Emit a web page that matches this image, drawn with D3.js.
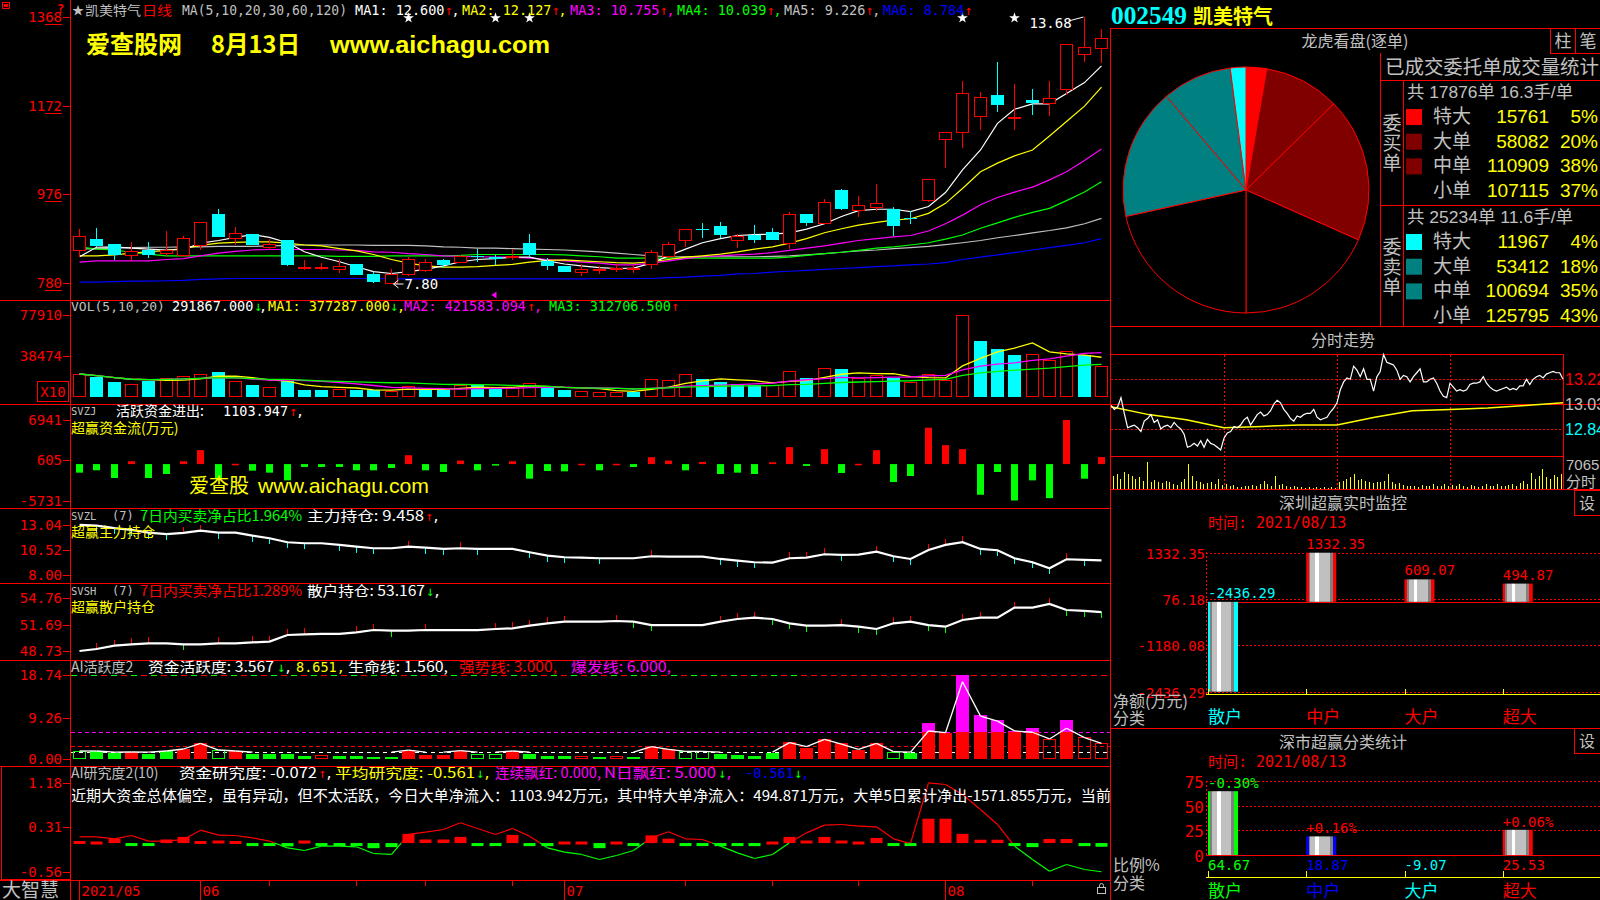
<!DOCTYPE html>
<html><head><meta charset="utf-8">
<script src="https://cdn.jsdelivr.net/npm/d3@7/dist/d3.min.js"></script>
<style>html,body{margin:0;padding:0;background:#000;overflow:hidden}svg{display:block}</style>
</head><body>
<svg id="chart" width="1600" height="900"></svg>
<script>
// ================= DATA =================
const dates = ['05-21','05-24','05-25','05-26','05-27','05-28','05-31',
'06-01','06-02','06-03','06-04','06-07','06-08','06-09','06-10','06-11','06-15','06-16','06-17','06-18','06-21','06-22','06-23','06-24','06-25','06-28','06-29','06-30',
'07-01','07-02','07-05','07-06','07-07','07-08','07-09','07-12','07-13','07-14','07-15','07-16','07-19','07-20','07-21','07-22','07-23','07-26','07-27','07-28','07-29','07-30',
'08-02','08-03','08-04','08-05','08-06','08-09','08-10','08-11','08-12','08-13'];
const open = [8.54,8.77,8.66,8.42,8.54,8.47,8.43,8.63,9.33,8.80,
8.88,8.60,8.75,8.12,8.12,8.10,8.21,8.00,7.81,8.01,
8.09,8.31,8.27,8.39,8.38,8.37,8.68,8.29,8.18,8.04,
8.10,8.10,8.10,8.21,8.40,8.74,8.99,9.05,8.74,8.87,
8.92,8.68,9.32,9.13,9.85,9.41,9.48,9.43,9.24,9.64,
10.98,11.13,11.50,11.95,11.42,11.85,11.79,12.08,12.86,12.99];
const high = [8.99,9.02,8.67,8.71,8.71,8.96,8.84,9.15,9.44,9.04,
8.89,8.77,8.76,8.31,8.24,8.32,8.22,8.04,8.10,8.38,
8.33,8.33,8.43,8.55,8.42,8.55,8.88,8.35,8.18,8.22,
8.18,8.21,8.20,8.52,8.71,8.99,9.12,9.15,8.88,9.08,
9.01,9.38,9.32,9.65,9.88,9.72,9.99,9.49,9.40,10.11,
11.13,12.27,12.02,12.69,12.20,12.08,12.27,13.08,13.68,13.41];
const low = [8.37,8.60,8.31,8.29,8.36,8.40,8.38,8.54,8.82,8.64,
8.63,8.54,8.18,8.09,8.09,8.03,7.98,7.81,7.80,7.95,
8.04,8.14,8.24,8.27,8.20,8.31,8.38,8.09,8.04,7.96,
8.01,8.05,8.03,8.12,8.35,8.59,8.80,8.80,8.58,8.68,
8.74,8.55,9.06,9.11,9.41,9.25,9.40,8.84,9.10,9.60,
10.34,10.79,11.18,11.58,11.18,11.51,11.50,11.96,12.69,12.67];
const close = [8.84,8.62,8.43,8.51,8.42,8.54,8.80,9.15,8.82,8.91,
8.63,8.66,8.20,8.16,8.15,8.18,7.98,7.82,8.00,8.33,
8.26,8.20,8.40,8.38,8.32,8.39,8.43,8.18,8.04,8.12,
8.12,8.14,8.13,8.48,8.66,8.99,8.98,8.85,8.84,8.74,
8.76,9.32,9.13,9.58,9.44,9.53,9.56,9.05,9.23,10.11,
11.13,11.99,11.91,11.74,11.47,11.79,11.88,13.08,13.02,13.21];

const ma1 = [8.38,8.59,8.60,8.57,8.55,8.53,8.54,8.68,8.74,8.81,
8.87,8.81,8.69,8.49,8.37,8.27,8.16,8.05,8.01,8.05,
8.10,8.18,8.27,8.32,8.34,8.37,8.37,8.29,8.22,8.18,
8.14,8.12,8.13,8.24,8.40,8.55,8.69,8.78,8.85,8.87,
8.88,8.91,8.99,9.11,9.27,9.40,9.43,9.43,9.38,9.49,
9.80,10.30,10.74,11.33,11.64,11.76,11.76,11.99,12.23,12.60];
const ma2 = [8.40,8.40,8.42,8.46,8.49,8.52,8.56,8.63,8.68,8.70,
8.71,8.71,8.68,8.64,8.62,8.56,8.51,8.43,8.32,8.24,
8.18,8.15,8.15,8.16,8.19,8.21,8.26,8.30,8.31,8.29,
8.27,8.25,8.24,8.27,8.32,8.37,8.40,8.44,8.49,8.55,
8.60,8.68,8.78,8.91,9.00,9.08,9.14,9.19,9.22,9.34,
9.56,9.89,10.26,10.45,10.61,10.74,11.05,11.37,11.71,12.13];
const ma3 = [8.26,8.29,8.29,8.29,8.29,8.32,8.34,8.40,8.46,8.50,
8.53,8.54,8.54,8.54,8.54,8.53,8.52,8.49,8.48,8.45,
8.43,8.40,8.39,8.38,8.37,8.37,8.35,8.32,8.29,8.26,
8.24,8.20,8.20,8.24,8.29,8.34,8.38,8.40,8.42,8.44,
8.47,8.52,8.57,8.62,8.68,8.74,8.78,8.82,8.85,8.95,
9.11,9.30,9.53,9.69,9.81,9.92,10.08,10.26,10.51,10.76];
const ma4 = [8.60,8.55,8.53,8.48,8.44,8.40,8.40,8.40,8.40,8.40,
8.40,8.40,8.40,8.40,8.40,8.39,8.39,8.39,8.40,8.40,
8.40,8.40,8.41,8.43,8.43,8.43,8.43,8.43,8.42,8.40,
8.38,8.35,8.35,8.35,8.35,8.35,8.35,8.35,8.35,8.35,
8.35,8.37,8.41,8.45,8.48,8.52,8.57,8.60,8.64,8.69,
8.77,8.86,9.01,9.13,9.25,9.36,9.45,9.62,9.81,10.04];
const ma5 = [8.55,8.56,8.57,8.58,8.59,8.59,8.60,8.60,8.61,8.61,
8.61,8.62,8.63,8.64,8.64,8.64,8.64,8.63,8.63,8.63,
8.62,8.60,8.59,8.57,8.57,8.56,8.55,8.54,8.53,8.51,
8.49,8.46,8.43,8.40,8.38,8.38,8.38,8.38,8.38,8.38,
8.39,8.40,8.42,8.45,8.48,8.51,8.53,8.56,8.58,8.61,
8.65,8.69,8.74,8.80,8.85,8.91,8.96,9.02,9.11,9.23];
const ma6 = [7.82,7.82,7.83,7.84,7.84,7.85,7.86,7.88,7.89,7.90,
7.90,7.90,7.90,7.90,7.90,7.90,7.90,7.90,7.89,7.89,
7.89,7.89,7.89,7.89,7.89,7.89,7.89,7.89,7.89,7.89,
7.90,7.90,7.90,7.90,7.92,7.93,7.95,7.97,8.00,8.01,
8.04,8.06,8.08,8.10,8.12,8.14,8.16,8.18,8.20,8.22,
8.25,8.32,8.37,8.42,8.47,8.53,8.58,8.63,8.69,8.78];

const volume = [215100,183200,141800,119500,148200,173700,196000,211900,237400,148200,
109900,90800,148200,62100,62100,71700,62100,58900,52600,103600,
62100,62100,109900,113100,74900,78100,132200,87600,62100,49400,
43000,43000,46200,164100,154500,218300,167300,135400,122700,113100,
109900,240600,176900,272400,262900,173700,205500,173700,135400,218300,
154500,779100,530600,454100,396700,403100,348900,435000,396700,291867];

const svzj = [-1346,-977,-2191,449,-2191,-1558,449,2191,-2297,50,
-1030,-1346,-2561,-449,-449,-449,-977,-977,-607,1399,
-977,-1241,554,-977,-185,449,-2297,-1082,-1135,50,
-977,50,-449,1082,554,-977,343,-1558,-1346,-1558,
290,2666,-290,2350,-1399,50,2191,-2825,-1874,5729,
2983,2350,-4831,-1241,-5731,-2561,-5359,6941,-2297,1104];

const svzl = [13.00,12.93,12.67,12.50,12.23,12.07,12.20,12.43,12.23,12.23,
11.93,11.67,11.27,11.17,11.17,11.00,10.83,10.67,10.67,10.83,
10.73,10.60,10.67,10.60,10.60,10.60,10.27,9.93,9.77,9.73,
9.67,9.67,9.67,9.87,9.83,9.83,9.83,9.60,9.43,9.27,
9.23,9.67,9.73,10.07,10.00,10.03,10.33,9.87,9.60,10.50,
11.00,11.27,10.60,10.47,9.67,9.27,8.67,9.57,9.50,9.458];

const svsh = [48.73,48.96,49.34,49.49,49.61,49.61,49.49,49.49,49.61,49.61,
49.72,49.80,50.56,50.64,50.68,50.68,50.87,51.13,51.06,51.06,
51.13,51.13,51.13,51.13,51.25,51.32,51.63,51.90,52.09,52.09,
52.09,52.16,52.09,51.70,51.70,51.70,51.70,52.09,52.39,52.54,
52.39,51.90,51.63,51.63,51.70,51.51,51.25,51.90,52.09,51.70,
51.51,52.28,52.54,52.54,53.69,53.69,54.11,53.42,53.31,53.167];

const aiAct = [1.81,1.81,1.29,1.59,1.14,1.81,2.26,3.53,2.03,1.81,
1.14,1.06,1.14,0.77,0.92,0.69,0.69,0.54,0.54,2.03,
0.92,0.92,1.88,1.06,1.06,1.81,1.06,0.69,0.69,0.69,
0.39,0.69,0.54,2.77,2.18,1.73,1.73,1.14,0.84,0.69,
1.44,3.90,2.41,4.50,3.53,2.03,3.60,1.66,1.44,8.07,
5.91,18.74,9.86,8.74,6.20,6.93,4.49,8.74,4.94,3.567];
// 1 = inflow filled, 2 = inflow hollow, -1 = outflow filled, -2 = outflow hollow
const aiState = [-2,-1,-1,1,-1,-1,1,1,-2,1,
-1,-1,-1,-1,2,-1,-1,-1,-1,1,
1,1,1,-2,-2,1,-1,-1,-1,2,
-1,2,-1,1,1,-2,-2,-1,-1,-1,
-1,1,1,1,1,1,1,-2,-1,1,
1,1,1,1,1,1,2,1,2,2];
const aiLine = [1.81,1.81,1.56,1.59,1.56,1.81,2.26,3.53,2.03,1.81,
1.56,1.56,1.56,1.56,1.56,1.56,1.56,1.56,1.56,2.03,
1.56,1.56,1.88,1.56,1.56,1.81,1.56,1.56,1.56,1.56,
1.56,1.56,1.56,2.77,2.18,1.73,1.73,1.56,1.56,1.56,
1.56,3.67,2.77,4.40,3.35,2.20,3.50,1.66,1.56,6.28,
5.91,17.30,9.60,8.50,6.30,6.00,4.50,6.90,4.80,3.50];
const aiLevels = {life:1.56, strong:3.0, burst:6.0, top:18.74};

const research = [0.04,0.03,0.085,-0.045,-0.02,0.07,0.12,0.04,0.05,0.04,
-0.02,-0.045,-0.065,0.05,-0.02,-0.02,-0.02,-0.10,-0.08,0.18,
0.07,0.07,0.12,-0.02,-0.02,0.16,-0.06,-0.06,0.03,0.03,
-0.10,0.03,-0.02,0.15,0.085,-0.045,-0.02,-0.06,-0.045,-0.06,
0.03,0.12,0.05,0.12,0.05,0.03,0.10,-0.045,-0.045,0.476,
0.476,0.18,0.065,0.065,-0.02,-0.08,0.08,0.08,-0.06,-0.072];
const researchAvg = [0.122,0.122,0.083,0.148,0.037,0.037,0.07,0.252,0.155,0.148,
0.103,0.037,-0.093,-0.145,-0.06,-0.06,-0.073,-0.204,-0.223,0.168,
0.213,0.265,0.396,0.285,0.168,0.285,0.135,-0.093,-0.178,-0.223,
-0.321,-0.243,-0.145,0.103,0.22,0.083,0.07,-0.06,-0.191,-0.302,
-0.223,0.005,0.2,0.35,0.363,0.331,0.318,0.083,-0.009,1.178,
1.145,0.95,0.656,0.363,-0.06,-0.321,-0.55,-0.419,-0.517,-0.561];

const priceTicks = [13.68, 11.72, 9.76, 7.80];
const volTicks = [779100, 384740];
const svzjTicks = [6941, 605, -5731];
const svzlTicks = [13.04, 10.52, 8.00];
const svshTicks = [54.76, 51.69, 48.73];
const aiTicks = [18.74, 9.26, 0.00];
const resTicks = [1.18, 0.31, -0.56];
const monthStarts = [['05-21','2021/05'],['06-01','06'],['07-01','07'],['08-02','08']];
const weekStarts = ['06-07','06-15','06-21','06-28','07-12','07-19','07-26','08-09'];
const signalDays = ['06-18','06-25','06-29','08-03','08-06'];

// intraday (Aug 13)
const tickPrice = [13.02,12.99,13.01,13.08,12.96,12.85,12.86,12.87,12.85,12.82,12.90,12.92,12.95,12.89,12.91,12.84,12.86,12.87,12.85,12.89,
12.86,12.84,12.80,12.70,12.71,12.73,12.71,12.75,12.70,12.76,12.73,12.72,12.70,12.68,12.77,12.81,12.82,12.86,12.85,12.87,
12.91,12.93,12.87,12.91,12.95,12.97,12.94,12.95,12.98,13.03,13.06,13.04,12.99,12.96,12.92,12.90,12.94,12.93,12.95,12.96,
12.96,12.99,12.93,12.91,12.92,12.93,12.97,13.00,13.04,13.14,13.20,13.23,13.22,13.32,13.29,13.24,13.30,13.22,13.22,13.13,
13.24,13.28,13.41,13.35,13.34,13.33,13.29,13.22,13.25,13.24,13.20,13.24,13.27,13.30,13.20,13.20,13.22,13.23,13.19,13.13,
13.09,13.08,13.19,13.16,13.13,13.14,13.13,13.14,13.18,13.19,13.19,13.20,13.24,13.19,13.16,13.14,13.13,13.14,13.15,13.16,
13.14,13.15,13.14,13.17,13.17,13.22,13.18,13.22,13.24,13.25,13.23,13.26,13.27,13.28,13.27,13.27,13.22];
const tickAvg = [13.01,12.95,12.91,12.85,12.86,12.87,12.87,12.93,12.98,12.99,13.00,13.02,13.04];
const tickVol = [2826,3179,2120,3533,3179,2685,2120,2473,1766,5793,1413,1978,1554,1272,1766,1413,1060,848,1413,2120,
5440,2826,1766,1413,1060,1272,1554,1060,2120,848,1060,707,848,424,353,707,565,848,707,1060,
1766,989,707,2826,848,1060,707,353,565,424,353,283,424,212,353,283,424,283,353,212,
1413,1766,2120,2473,3179,1978,2120,1766,1413,1272,1554,1413,1766,3179,1413,1060,1272,848,707,565,
707,424,848,707,565,989,565,707,1060,565,848,707,1060,565,353,848,565,424,707,1060,
565,707,989,565,707,848,1060,707,1272,1766,1060,3391,2120,2826,4380,2473,2120,2967,2473,3179];
const tickPriceTicks = [13.22, 13.03, 12.84];
const tickVolMax = 7065;

// order statistics
const sizeNames = ['特大','大单','中单','小单'];
const buyVals = [15761, 58082, 110909, 107115];
const buyPct = ['5%','20%','38%','37%'];
const sellVals = [11967, 53412, 100694, 125795];
const sellPct = ['4%','18%','35%','43%'];
const buySummary = '共 17876单 16.3手/单';
const sellSummary = '共 25234单 11.6手/单';

const flowCats = ['散户','中户','大户','超大'];
const szVals = [-2436.29, 1332.35, 609.07, 494.87];
const szTicks = [1332.35, 76.18, -1180.08, -2436.29];
const ssVals = [64.67, 18.87, -9.07, 25.53];
const ssChg = ['-0.30%','+0.16%','','+0.06%'];
const ssTicks = [75, 50, 25, 0];

// ================= DRAW =================
const svg = d3.select('#chart');
const RED='#ff0000', CYAN='#00ffff', YEL='#ffff00', MAG='#ff00ff', GRN='#00ff00', GRAY='#c0c0c0',
      WHITE='#ffffff', BLUE='#0000ff', DRED='#800000', TEAL='#008080';
const MONO="'DejaVu Sans Mono','Noto Sans CJK SC',monospace";
const CJK="'Noto Sans CJK SC','Noto Sans',sans-serif";
const SANS="'Liberation Sans','Noto Sans CJK SC',sans-serif";

svg.append('rect').attr('width',1600).attr('height',900).attr('fill','#000');
const defs = svg.append('defs');

function ln(x1,y1,x2,y2,color,opt={}){
  return svg.append('line').attr('x1',x1).attr('y1',y1).attr('x2',x2).attr('y2',y2)
    .attr('stroke',color).attr('stroke-width',opt.w||1)
    .attr('stroke-dasharray',opt.dash||null)
    .attr('shape-rendering',opt.smooth?'geometricPrecision':'crispEdges');
}
function tx(x,y,s,color,opt={}){
  const t=(opt.parent||svg).append('text').attr('x',x).attr('y',y).text(s).attr('fill',color)
    .attr('font-size',opt.size||13.5).attr('font-family',opt.family||MONO)
    .attr('text-anchor',opt.anchor||'start');
  if(opt.weight) t.attr('font-weight',opt.weight);
  if(opt.len) t.attr('textLength',opt.len).attr('lengthAdjust','spacingAndGlyphs');
  return t;
}

// ---- x scale for daily chart
const x = d3.scaleBand().domain(dates).range([70.8,1110]);
const xm = i => Math.floor(x(dates[i]) + x.bandwidth()/2) + 0.5;
const xd = d => Math.floor(x(d) + x.bandwidth()/2) + 0.5;

// ---- y scales
const yP = d3.scaleLinear().domain([7.80,13.68]).range([283,17]);
const yV = d3.scaleLinear().domain([0,779100]).range([396.5,315]);
const yZ = d3.scaleLinear().domain([-5731,6941]).range([500.5,420]);
const yL = d3.scaleLinear().domain([8.00,13.04]).range([575,524.5]);
const yS = d3.scaleLinear().domain([48.73,54.76]).range([651,598.3]);
const yA = d3.scaleLinear().domain([0,18.74]).range([759.1,675.3]);
const yR = d3.scaleLinear().domain([-0.56,1.18]).range([871.7,782.7]);

// ---- frame lines
[300,404,508,583,660,766,880].forEach(y=>ln(0,y+0.5,1110,y+0.5,RED));
ln(70.5,0,70.5,900,RED);
ln(1110.5,28,1110.5,900,RED);
svg.append('rect').attr('x',1.5).attr('y',766.5).attr('width',68.5).attr('height',113).attr('fill','none').attr('stroke',RED).attr('shape-rendering','crispEdges');

// ---- left axis labels
function axisLabels(scale, vals, fmt, underline){
  vals.forEach(v=>{
    const y = scale(v);
    ln(63,Math.round(y)+0.5,70,Math.round(y)+0.5,RED);
    tx(62,y+5,fmt(v),RED,{anchor:'end',size:14});
    if(underline) ln(45,Math.round(y)+7.5,62,Math.round(y)+7.5,RED);
  });
}
axisLabels(yP, priceTicks, v=>String(Math.round(v*100)), true);
axisLabels(yV, volTicks, v=>String(Math.round(v/10)));
axisLabels(yZ, svzjTicks, v=>String(v));
axisLabels(yL, svzlTicks, v=>v.toFixed(2));
axisLabels(yS, svshTicks, v=>v.toFixed(2));
axisLabels(yA, aiTicks, v=>v.toFixed(2));
axisLabels(yR, resTicks, v=>v.toFixed(2));
svg.append('rect').attr('x',37.5).attr('y',381.5).attr('width',31).attr('height',20).attr('fill','none').attr('stroke',RED).attr('shape-rendering','crispEdges');
tx(53,397,'X10',RED,{anchor:'middle',size:14});
// top-left icons
svg.append('rect').attr('x',2.5).attr('y',2.5).attr('width',7).attr('height',6).attr('fill','none').attr('stroke',RED).attr('shape-rendering','crispEdges');
svg.append('rect').attr('x',4).attr('y',4).attr('width',4).attr('height',3).attr('fill',RED);
tx(57,13,'?',RED,{size:12,weight:'bold'});

// ---- main panel: MAs
const maColors = [WHITE, YEL, MAG, GRN, GRAY, BLUE];
const mainG = svg.append('g');
[ma6,ma5,ma4,ma3,ma2,ma1].forEach((arr,j)=>{
  mainG.append('path').attr('d', d3.line().x((d,i)=>xm(i)).y(d=>yP(d))(arr))
    .attr('fill','none').attr('stroke',maColors[5-j]).attr('stroke-width',1.2);
});
// candles
dates.forEach((d,i)=>{
  const o=open[i], c=close[i], h=high[i], l=low[i];
  const X = xm(i);
  const top = Math.round(yP(Math.max(o,c))), bot = Math.round(yP(Math.min(o,c)));
  if(c>o){
    mainG.append('line').attr('x1',X).attr('x2',X).attr('y1',yP(h)).attr('y2',top).attr('stroke',RED).attr('shape-rendering','crispEdges');
    mainG.append('line').attr('x1',X).attr('x2',X).attr('y1',bot).attr('y2',yP(l)).attr('stroke',RED).attr('shape-rendering','crispEdges');
    if(bot-top<3){
      mainG.append('rect').attr('x',X-6.5).attr('y',top).attr('width',13).attr('height',Math.max(2,bot-top)).attr('fill',RED);
    } else {
      mainG.append('rect').attr('x',X-6).attr('y',top+0.5).attr('width',12).attr('height',bot-top).attr('fill','#000').attr('stroke',RED).attr('shape-rendering','crispEdges');
    }
  } else {
    mainG.append('line').attr('x1',X).attr('x2',X).attr('y1',yP(h)).attr('y2',yP(l)).attr('stroke',CYAN).attr('shape-rendering','crispEdges');
    mainG.append('rect').attr('x',X-6.5).attr('y',top).attr('width',13).attr('height',Math.max(1,bot-top)).attr('fill',CYAN);
  }
});
// high / low markers
{
  const iHi = d3.maxIndex(high), iLo = d3.minIndex(low);
  const hx = xm(iHi), hy = yP(high[iHi]);
  svg.append('line').attr('x1',hx-16).attr('y1',hy+4).attr('x2',hx-1).attr('y2',hy).attr('stroke',WHITE).attr('stroke-width',1);
  tx(hx-55,hy+11,high[iHi].toFixed(2),WHITE,{size:14});
  const lx = xm(iLo), ly = yP(low[iLo]);
  svg.append('line').attr('x1',lx+2).attr('y1',ly+1).attr('x2',lx+12).attr('y2',ly+1).attr('stroke',WHITE);
  svg.append('path').attr('d',`M${lx+2},${ly+1} l5,-4 M${lx+2},${ly+1} l5,4`).attr('stroke',WHITE).attr('fill','none');
  tx(lx+13,ly+6,low[iLo].toFixed(2),WHITE,{size:14});
}
// signal markers on top
signalDays.forEach(d=>{
  const X = xd(d);
  svg.append('path').attr('d',d3.symbol(d3.symbolStar,36)()).attr('transform',`translate(${X},18)`).attr('fill',WHITE);
});
svg.append('path').attr('d',`M${xd('06-25')-4},295 l5,-3.5 l0,7 z`).attr('fill',MAG);

// header texts
tx(72,15,'★',GRAY,{size:12,family:CJK});
tx(85,15,'凯美特气',GRAY,{size:13,family:CJK,len:56});
tx(142,15,'日线',RED,{size:13,family:CJK,len:30});
tx(182,15,'MA(5,10,20,30,60,120)',GRAY,{len:165});
const maHdr = [[355,'MA1: 12.600',WHITE],[462,'MA2: 12.127',YEL],[570,'MA3: 10.755',MAG],[677,'MA4: 10.039',GRN],[784,'MA5: 9.226',GRAY],[883,'MA6: 8.784',BLUE]];
maHdr.forEach(([xx,s,c],k)=>{
  tx(xx,15,s,c);
  const w = s.length*8.13;
  tx(xx+w,15,'↑',RED);
  if(k<5) tx(xx+w+7,15,',',c);
});
// watermark
tx(86,53,'爱查股网',YEL,{size:24,family:CJK,weight:'bold'});
tx(211,53,'8月13日',YEL,{size:24,family:CJK,weight:'bold',len:89});
tx(330,53,'www.aichagu.com',YEL,{size:24,family:SANS,weight:'bold',len:220});

// ---- volume panel
const volMA = n => volume.map((d,i)=>d3.mean(volume.slice(Math.max(0,i-n+1),i+1)));
dates.forEach((d,i)=>{
  const up = i===0 ? true : close[i] >= close[i-1];
  const X = xm(i), top = Math.round(yV(volume[i])), base = Math.round(yV(0));
  if(up) svg.append('rect').attr('x',X-6).attr('y',top+0.5).attr('width',12).attr('height',base-top-1).attr('fill','none').attr('stroke',RED).attr('shape-rendering','crispEdges');
  else svg.append('rect').attr('x',X-6.5).attr('y',top).attr('width',13).attr('height',base-top).attr('fill',CYAN);
});
[[5,YEL],[10,MAG],[20,GRN]].forEach(([n,c])=>{
  svg.append('path').attr('d',d3.line().x((d,i)=>xm(i)).y(d=>yV(d))(volMA(n))).attr('fill','none').attr('stroke',c).attr('stroke-width',1.3);
});
tx(71,311,'VOL(5,10,20)',GRAY,{size:13});
tx(172,311,'291867.000',WHITE);
tx(254,311,'↓',GRN); tx(259,311,',',WHITE);
tx(268,311,'MA1: 377287.000',YEL); tx(390,311,'↓',GRN); tx(397,311,',',YEL);
tx(404,311,'MA2: 421583.094',MAG); tx(527,311,'↑',RED); tx(534,311,',',MAG);
tx(549,311,'MA3: 312706.500',GRN); tx(671,311,'↑',RED);

// ---- SVZJ panel
dates.forEach((d,i)=>{
  const v = svzj[i], X = xm(i);
  const y0 = yZ(0), y1 = yZ(v);
  svg.append('rect').attr('x',X-3.5).attr('y',Math.min(y0,y1)).attr('width',7).attr('height',Math.max(1.5,Math.abs(y1-y0)))
    .attr('fill', v>=0?RED:GRN);
});
tx(71,415,'SVZJ',GRAY,{size:10.5});
tx(116,416,'活跃资金进出:',WHITE,{size:14,family:CJK});
tx(223,416,'1103.947',WHITE); tx(289,416,'↑',RED); tx(296,416,',',WHITE);
tx(71,433,'超赢资金流(万元)',YEL,{size:14,family:CJK});
tx(189,493,'爱查股',YEL,{size:20,family:CJK});
tx(258,493,'www.aichagu.com',YEL,{size:21,family:SANS,len:171});

// ---- SVZL / SVSH panels
function holdLine(arr, scale, upC, dnC){
  for(let i=1;i<arr.length;i++){
    const X = xm(i), y = scale(arr[i]);
    if(arr[i]>arr[i-1]+0.05) svg.append('line').attr('x1',X).attr('x2',X).attr('y1',y).attr('y2',y-6).attr('stroke',upC).attr('shape-rendering','crispEdges');
    else if(arr[i]<arr[i-1]-0.05) svg.append('line').attr('x1',X).attr('x2',X).attr('y1',y).attr('y2',y+6).attr('stroke',dnC).attr('shape-rendering','crispEdges');
  }
  svg.append('path').attr('d',d3.line().x((d,i)=>xm(i)).y(d=>scale(d))(arr)).attr('fill','none').attr('stroke',WHITE).attr('stroke-width',2.2);
}
holdLine(svzl, yL, RED, CYAN);
tx(71,520,'SVZL',GRAY,{size:10.5}); tx(112,520,'(7)',GRAY,{size:12});
tx(140,521,'7日内买卖净占比1.964%',GRN,{size:14,family:CJK,len:162});
tx(307,521,'主力持仓: 9.458',WHITE,{size:14,family:CJK,len:117}); tx(425,521,'↑',RED); tx(432,521,',',WHITE);
tx(71,537,'超赢主力持仓',YEL,{size:14,family:CJK});

holdLine(svsh, yS, RED, GRN);
tx(71,595,'SVSH',GRAY,{size:10.5}); tx(112,595,'(7)',GRAY,{size:12});
tx(140,596,'7日内买卖净占比1.289%',RED,{size:14,family:CJK,len:162});
tx(307,596,'散户持仓: 53.167',WHITE,{size:14,family:CJK,len:118}); tx(426,596,'↓',GRN); tx(433,596,',',WHITE);
tx(71,612,'超赢散户持仓',YEL,{size:14,family:CJK});

// ---- AI活跃度 panel
const yTop = Math.round(yA(aiLevels.top))+0.5;
ln(71,yTop,1110,yTop,RED,{dash:'6,4'});
ln(71,yTop,800,yTop,GRN,{dash:'6,14'});
ln(71,Math.round(yA(aiLevels.burst))+0.5,1110,Math.round(yA(aiLevels.burst))+0.5,MAG,{dash:'4,3'});
ln(71,Math.round(yA(aiLevels.strong))+0.5,1110,Math.round(yA(aiLevels.strong))+0.5,RED,{dash:'4,3'});
ln(71,Math.round(yA(aiLevels.life))+0.5,1110,Math.round(yA(aiLevels.life))+0.5,WHITE,{dash:'4,4'});
dates.forEach((d,i)=>{
  const v = aiAct[i], st = aiState[i], X = xm(i);
  const col = st>0?RED:GRN;
  const base = Math.round(yA(0));
  const lowTop = Math.round(yA(Math.min(v,aiLevels.burst)));
  if(Math.abs(st)===2){
    svg.append('rect').attr('x',X-6).attr('y',lowTop+0.5).attr('width',12).attr('height',base-lowTop-1).attr('fill','none').attr('stroke',col).attr('shape-rendering','crispEdges');
  } else {
    svg.append('rect').attr('x',X-6.5).attr('y',lowTop).attr('width',13).attr('height',base-lowTop).attr('fill',col);
  }
  if(v>aiLevels.burst){
    const t = Math.round(yA(v));
    svg.append('rect').attr('x',X-6.5).attr('y',t).attr('width',13).attr('height',lowTop-t).attr('fill',MAG);
  }
});
for(let i=0;i<aiLine.length-1;i++){
  if(Math.max(aiLine[i],aiLine[i+1])>aiLevels.life+0.01){
    svg.append('line').attr('x1',xm(i)).attr('y1',yA(aiLine[i])).attr('x2',xm(i+1)).attr('y2',yA(aiLine[i+1])).attr('stroke',WHITE).attr('stroke-width',1.3);
  }
}
tx(71,672,'AI活跃度2',GRAY,{size:14,family:CJK});
tx(148,672,'资金活跃度: 3.567',WHITE,{size:14,family:CJK,len:126}); tx(277,672,'↓',GRN); tx(284,672,',',WHITE);
tx(296,672,'8.651,',YEL);
tx(348,672,'生命线: 1.560,',WHITE,{size:14,family:CJK,len:100});
tx(459,672,'强势线: 3.000,',RED,{size:14,family:CJK,len:98});
tx(571,672,'爆发线: 6.000,',MAG,{size:14,family:CJK,len:100});

// ---- AI研究度 panel
const y0R = yR(0);
dates.forEach((d,i)=>{
  const v = research[i], X = xm(i);
  const y1 = yR(v);
  svg.append('rect').attr('x',X-6).attr('y',Math.min(y0R,y1)).attr('width',12).attr('height',Math.max(3,Math.abs(y1-y0R)))
    .attr('fill', v>=0?RED:GRN);
});
for(let i=0;i<researchAvg.length-1;i++){
  const a=researchAvg[i], b=researchAvg[i+1], x1=xm(i), x2=xm(i+1);
  if((a>=0)===(b>=0)){
    svg.append('line').attr('x1',x1).attr('y1',yR(a)).attr('x2',x2).attr('y2',yR(b)).attr('stroke',a>=0?RED:GRN).attr('stroke-width',1.2);
  } else {
    const t = a/(a-b), xz = x1+(x2-x1)*t;
    svg.append('line').attr('x1',x1).attr('y1',yR(a)).attr('x2',xz).attr('y2',y0R).attr('stroke',a>=0?RED:GRN).attr('stroke-width',1.2);
    svg.append('line').attr('x1',xz).attr('y1',y0R).attr('x2',x2).attr('y2',yR(b)).attr('stroke',b>=0?RED:GRN).attr('stroke-width',1.2);
  }
}
tx(71,778,'AI研究度2(10)',GRAY,{size:14,family:CJK});
tx(179,778,'资金研究度: -0.072',WHITE,{size:14,family:CJK,len:138}); tx(318,778,'↑',RED); tx(325,778,',',WHITE);
tx(335,778,'平均研究度: -0.561',YEL,{size:14,family:CJK,len:140}); tx(476,778,'↓',GRN); tx(483,778,',',YEL);
tx(495,778,'连续飘红: 0.000,',MAG,{size:14,family:CJK,len:106});
tx(604,778,'N日飘红: 5.000',MAG,{size:14,family:CJK,len:112}); tx(718,778,'↓',GRN); tx(725,778,',',MAG);
tx(745,778,'-0.561',BLUE); tx(794,778,'↓',GRN); tx(801,778,',',BLUE);
defs.append('clipPath').attr('id','clipL').append('rect').attr('x',71).attr('y',760).attr('width',1039).attr('height',60);
const noteG = svg.append('g').attr('clip-path','url(#clipL)');
tx(71,801,'近期大资金总体偏空，虽有异动，但不太活跃，今日大单净流入：1103.942万元，其中特大单净流入：494.871万元，大单5日累计净出-1571.855万元，当前',WHITE,{size:15,family:CJK,parent:noteG,len:1040});

// ---- date axis
tx(2,897,'大智慧',GRAY,{size:19,family:CJK});
monthStarts.forEach(([d,lab])=>{
  const X = xd(d);
  ln(X,880,X,900,RED);
  tx(X+2,896,lab,RED,{size:14});
});
weekStarts.forEach(d=>{ const X = xd(d); ln(X,880,X,886,RED); });
// lock icon
svg.append('rect').attr('x',1097.5).attr('y',887.5).attr('width',8).attr('height',6).attr('fill','none').attr('stroke',GRAY);
svg.append('path').attr('d','M1099.5,887.5 v-2 a2,2 0 0 1 4,0 v2').attr('fill','none').attr('stroke',GRAY);

// ================= RIGHT PANEL =================
tx(1111,24,'002549',CYAN,{size:25,family:"'Liberation Serif',serif",weight:'bold',len:76});
tx(1193,24,'凯美特气',YEL,{size:20,family:CJK,weight:'bold'});
ln(1110,28.5,1600,28.5,RED);
tx(1355,47,'龙虎看盘(逐单)',GRAY,{size:16,family:CJK,anchor:'middle'});
svg.append('rect').attr('x',1550.5).attr('y',28.5).attr('width',25).attr('height',25).attr('fill','none').attr('stroke',RED).attr('shape-rendering','crispEdges');
svg.append('rect').attr('x',1575.5).attr('y',28.5).attr('width',25).attr('height',25).attr('fill','none').attr('stroke',RED).attr('shape-rendering','crispEdges');
tx(1563,47,'柱',GRAY,{size:17,family:CJK,anchor:'middle'});
tx(1588,47,'笔',GRAY,{size:17,family:CJK,anchor:'middle'});

// pie
const buyColors = [RED, DRED, DRED, '#000'];
const sellColors = [CYAN, TEAL, TEAL, '#000'];
const pieRows = buyVals.map((v,i)=>({v, c:buyColors[i]}))
  .concat(sellVals.map((v,i)=>({v, c:sellColors[i]})).reverse());
const pie = d3.pie().sort(null).value(d=>d.v);
const arc = d3.arc().innerRadius(0).outerRadius(123);
svg.append('g').attr('transform','translate(1246,190)').selectAll('path').data(pie(pieRows)).join('path')
  .attr('d',arc).attr('fill',d=>d.data.c).attr('stroke',RED).attr('stroke-width',1);

// table
ln(1380.5,53,1380.5,326,RED);
ln(1380,80.5,1600,80.5,RED);
ln(1403.5,80,1403.5,326,RED);
ln(1380,205.5,1600,205.5,RED);
tx(1385,74,'已成交委托单成交量统计',GRAY,{size:19.5,family:CJK,len:214});
function tableGroup(y0, summary, vals, pcts, colors, sideChars, sideY){
  tx(1407,y0,summary,GRAY,{size:17,family:SANS,len:166});
  sideChars.forEach((ch,k)=>tx(1392,sideY+k*20,ch,GRAY,{size:19,family:CJK,anchor:'middle'}));
  vals.forEach((v,k)=>{
    const yc = y0 + 25 + k*24.7;
    if(colors[k]!=='#000') svg.append('rect').attr('x',1406).attr('y',yc-14).attr('width',16).attr('height',16).attr('fill',colors[k]);
    tx(1433,yc,sizeNames[k],GRAY,{size:19,family:CJK});
    tx(1549,yc,String(v),YEL,{size:19,family:SANS,anchor:'end'});
    tx(1598,yc,pcts[k],YEL,{size:19,family:SANS,anchor:'end'});
  });
}
tableGroup(98, buySummary, buyVals, buyPct, buyColors, ['委','买','单'], 130);
tableGroup(223, sellSummary, sellVals, sellPct, sellColors, ['委','卖','单'], 254);
ln(1110,326.5,1600,326.5,RED);

// ---- intraday
tx(1343,346,'分时走势',GRAY,{size:16,family:CJK,anchor:'middle'});
const xT = d3.scaleLinear().domain([0,240]).range([1111,1563]);
const yT = d3.scaleLinear().domain([12.84,13.22]).range([429,379.3]);
const yTV = d3.scaleLinear().domain([0,tickVolMax]).range([489,456]);
svg.append('rect').attr('x',1110.5).attr('y',354.5).attr('width',452.5).attr('height',135).attr('fill','none').attr('stroke',RED).attr('shape-rendering','crispEdges');
ln(1110,456.5,1563,456.5,RED);
ln(1110,404.5,1600,404.5,RED);
[13.22,12.84].forEach(v=>ln(1111,Math.round(yT(v))+0.5,1563,Math.round(yT(v))+0.5,RED,{dash:'2,2'}));
[60,120,180].forEach(m=>ln(Math.round(xT(m))+0.5,355,Math.round(xT(m))+0.5,489,RED,{dash:'2,2'}));
tickVol.forEach((v,i)=>{
  const X = Math.round(xT(i*2+1))+0.5;
  svg.append('line').attr('x1',X).attr('x2',X).attr('y1',yTV(v)).attr('y2',489).attr('stroke',YEL).attr('stroke-width',1.3).attr('shape-rendering','crispEdges');
});
svg.append('path').attr('d',d3.line().x((d,i)=>xT(i*20)).y(d=>yT(d))(tickAvg)).attr('fill','none').attr('stroke',YEL).attr('stroke-width',1.5);
svg.append('path').attr('d',d3.line().x((d,i)=>xT(i*240/(tickPrice.length-1))).y(d=>yT(d))(tickPrice)).attr('fill','none').attr('stroke',WHITE).attr('stroke-width',1.2);
const tpColors = [RED, GRAY, CYAN];
tickPriceTicks.forEach((v,k)=>tx(1565,yT(v)+6,v.toFixed(2),tpColors[k],{size:16,family:SANS}));
tx(1566,470,String(tickVolMax),GRAY,{size:15,family:SANS});
tx(1566,487,'分时',GRAY,{size:15,family:CJK});
ln(1110,489.5,1600,489.5,RED);

// ---- 深圳超赢实时监控
function cyl(id, edge){
  const lg = defs.append('linearGradient').attr('id',id).attr('x1',0).attr('x2',1).attr('y1',0).attr('y2',0);
  [[0,edge],[0.08,edge],[0.08,'#808080'],[0.14,'#808080'],[0.14,GRAY],[0.3,GRAY],[0.3,WHITE],[0.42,WHITE],[0.42,GRAY],[0.78,GRAY],[0.78,'#808080'],[0.88,'#808080'],[0.88,edge],[1,edge]]
    .forEach(([o,c])=>lg.append('stop').attr('offset',o).attr('stop-color',c));
}
cyl('cRed',RED); cyl('cCyan',CYAN); cyl('cGrn',GRN); cyl('cBlue',BLUE);
const xF = d3.scaleBand().domain(flowCats).range([1208,1601]);
const barW = 30;

tx(1343,509,'深圳超赢实时监控',GRAY,{size:16,family:CJK,anchor:'middle'});
svg.append('rect').attr('x',1574.5).attr('y',490.5).attr('width',26).attr('height',25).attr('fill','none').attr('stroke',RED).attr('shape-rendering','crispEdges');
tx(1587,509,'设',GRAY,{size:16,family:CJK,anchor:'middle'});
tx(1208,528,'时间: 2021/08/13',RED,{size:15,family:MONO});
const ySZ = d3.scaleLinear().domain([-2436.29,1332.35]).range([691.7,552.7]);
ln(1206.5,552,1206.5,694,RED,{dash:'2,2'});
szTicks.forEach(v=>{
  const y = Math.round(ySZ(v))+0.5;
  ln(1206,y,1600,y,RED,{dash:'2,2'});
  tx(1205,y+5,v.toFixed(2),RED,{anchor:'end',size:14});
});
ln(1206,Math.round(ySZ(0))+0.5,1600,Math.round(ySZ(0))+0.5,RED);
flowCats.forEach((c,k)=>{
  const v = szVals[k], X = xF(c);
  const y0 = ySZ(0), y1 = ySZ(v);
  const col = v<0?CYAN:RED;
  svg.append('rect').attr('x',X).attr('y',Math.min(y0,y1)).attr('width',barW).attr('height',Math.abs(y1-y0)).attr('fill',`url(#${v<0?'cCyan':'cRed'})`);
  tx(X, v>=0 ? y1-4 : y0-4, v.toFixed(2), col, {size:14});
  tx(X, 723, c, col, {size:17,family:CJK});
  ln(X+0.5,689,X+0.5,694,YEL);
});
ln(1206,694.5,1600,694.5,YEL);
tx(1113,707,'净额(万元)',GRAY,{size:16,family:CJK});
tx(1113,724,'分类',GRAY,{size:16,family:CJK});
ln(1110,728.5,1600,728.5,RED);

// ---- 深市超赢分类统计
tx(1343,748,'深市超赢分类统计',GRAY,{size:16,family:CJK,anchor:'middle'});
svg.append('rect').attr('x',1574.5).attr('y',728.5).attr('width',26).attr('height',25).attr('fill','none').attr('stroke',RED).attr('shape-rendering','crispEdges');
tx(1587,747,'设',GRAY,{size:16,family:CJK,anchor:'middle'});
tx(1208,767,'时间: 2021/08/13',RED,{size:15,family:MONO});
const ySS = d3.scaleLinear().domain([0,75]).range([855,781]);
ln(1206.5,781,1206.5,855,RED,{dash:'2,2'});
ssTicks.forEach(v=>{
  const y = Math.round(ySS(v))+0.5;
  ln(1206,y,1600,y,RED,v===0?{}:{dash:'2,2'});
  tx(1204,y+6,String(v),RED,{anchor:'end',size:16});
});
const ssColors = [GRN, BLUE, CYAN, RED];
const ssGrad = ['cGrn','cBlue','cCyan','cRed'];
flowCats.forEach((c,k)=>{
  const v = ssVals[k], X = xF(c);
  if(v>0){
    svg.append('rect').attr('x',X).attr('y',ySS(v)).attr('width',barW).attr('height',ySS(0)-ySS(v)).attr('fill',`url(#${ssGrad[k]})`);
  }
  if(ssChg[k]) tx(X, ySS(Math.max(v,0))-3, ssChg[k], ssChg[k].startsWith('-')?GRN:RED, {size:14});
  tx(X, 870, v.toFixed(2), ssColors[k], {size:14});
  tx(X, 897, c, ssColors[k], {size:17,family:CJK});
  ln(X+0.5,871,X+0.5,877,YEL);
});
ln(1206,877.5,1600,877.5,YEL);
tx(1113,871,'比例%',GRAY,{size:16,family:CJK});
tx(1113,889,'分类',GRAY,{size:16,family:CJK});
</script>
</body></html>
